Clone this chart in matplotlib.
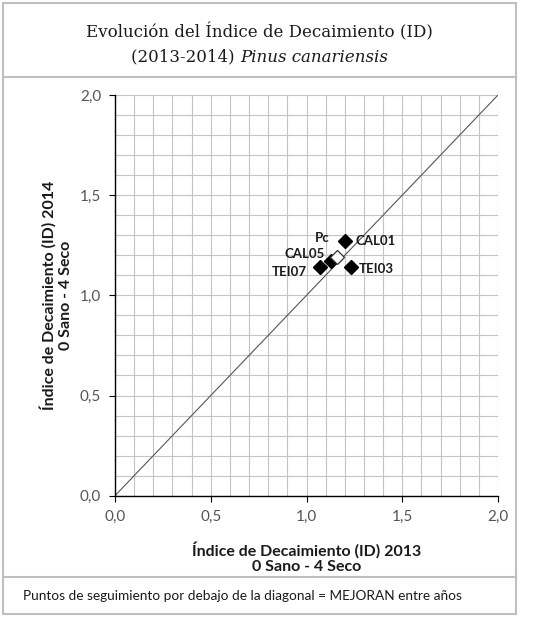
import matplotlib.pyplot as plt
from matplotlib.lines import Line2D
from matplotlib.patches import Rectangle
from matplotlib.ticker import MultipleLocator, FuncFormatter

# Data
plots = ["CAL01", "CAL05", "TEI07", "TEI03"]
id_2013 = [1.20, 1.13, 1.07, 1.23]
id_2014 = [1.27, 1.17, 1.14, 1.14]
pc_2013 = [1.16]
pc_2014 = [1.19]
diag = [0.0, 2.0]

W, H = 534, 619
SANS = "Lato"
BORDER = "#bfbfbf"
INK = "#1a1a1a"

fig = plt.figure(figsize=(W / 100, H / 100), dpi=100)
fig.patch.set_facecolor("white")


def fx(px):
    return px / W


def fy(py):
    return 1 - py / H


# outer frame and separators
fig.add_artist(Rectangle((fx(3), fy(614)), fx(513), 611 / H, transform=fig.transFigure,
                         fill=False, edgecolor=BORDER, linewidth=1.5))
for yy in (77, 577):
    fig.add_artist(Line2D([fx(3), fx(516)], [fy(yy), fy(yy)], transform=fig.transFigure,
                          color=BORDER, linewidth=1.5))

# title
TSIZE = 12
fig.text(fx(259.5), fy(32), "Evolución del Índice de Decaimiento (ID)", ha="center",
         va="center", fontsize=TSIZE, family="DejaVu Serif", color=INK)
t1 = fig.text(0, fy(57), "(2013-2014) ", ha="left", va="center", fontsize=TSIZE,
              family="DejaVu Serif", color=INK)
t2 = fig.text(0, fy(57), "Pinus canariensis", ha="left", va="center", fontsize=TSIZE,
              family="DejaVu Serif", style="italic", color=INK)
r = fig.canvas.get_renderer()
w1 = t1.get_window_extent(r).width
w2 = t2.get_window_extent(r).width
x0 = 259.5 - (w1 + w2) / 2
t1.set_x(fx(x0))
t2.set_x(fx(x0 + w1))

# plot
ax = fig.add_axes([fx(115), 1 - 495.7 / H, fx(383), 400.7 / H])
ax.set_xlim(0, 2)
ax.set_ylim(0, 2)
ax.xaxis.set_major_locator(MultipleLocator(0.5))
ax.yaxis.set_major_locator(MultipleLocator(0.5))
ax.xaxis.set_minor_locator(MultipleLocator(0.1))
ax.yaxis.set_minor_locator(MultipleLocator(0.1))
fmt = FuncFormatter(lambda v, p: f"{v:.1f}".replace(".", ","))
ax.xaxis.set_major_formatter(fmt)
ax.yaxis.set_major_formatter(fmt)
ax.grid(True, which="both", color="#c4c4c4", linewidth=0.8, zorder=0)
ax.set_axisbelow(True)
for s in ("top", "right"):
    ax.spines[s].set_visible(False)
for s in ("left", "bottom"):
    ax.spines[s].set_color("black")
    ax.spines[s].set_linewidth(1.0)
ax.tick_params(which="major", direction="out", length=4, width=0.8,
               labelsize=11, labelcolor="#555555", pad=6)
ax.tick_params(which="minor", length=0)
for lab in ax.get_xticklabels() + ax.get_yticklabels():
    lab.set_family(SANS)

ax.plot(diag, diag, color="#555555", linewidth=0.8, zorder=2)
ax.plot(id_2013, id_2014, linestyle="none", marker="D", markersize=7,
        color="black", zorder=4)
ax.plot(pc_2013, pc_2014, linestyle="none", marker="D", markersize=7,
        markerfacecolor="white", markeredgecolor="#333333", markeredgewidth=0.9, zorder=4)

# point labels (offsets in pixels)
LSIZE = 9.5
offsets = {"CAL01": (11, 0, "left"), "CAL05": (-7, 7, "right"),
           "TEI07": (-13, -5, "right"), "TEI03": (8, -2, "left")}
for name, x, y in zip(plots, id_2013, id_2014):
    dx, dy, ha = offsets[name]
    ax.annotate(name, (x, y), xytext=(dx * 0.72, dy * 0.72), textcoords="offset points",
                ha=ha, va="center", fontsize=LSIZE, fontweight="bold", family=SANS,
                color=INK)
ax.annotate("Pc", (pc_2013[0], pc_2014[0]), xytext=(-15 * 0.72, 19 * 0.72),
            textcoords="offset points", ha="center", va="center", fontsize=LSIZE,
            fontweight="bold", family=SANS, color=INK)

# axis titles
ASIZE = 11.5
fig.text(fx(307), fy(550), "Índice de Decaimiento (ID) 2013", ha="center", va="center",
         fontsize=ASIZE, fontweight="bold", family=SANS, color=INK)
fig.text(fx(307), fy(567), "0 Sano - 4 Seco", ha="center", va="center",
         fontsize=ASIZE, fontweight="bold", family=SANS, color=INK)
fig.text(fx(48), fy(295), "Índice de Decaimiento (ID) 2014", ha="center", va="center",
         rotation=90, fontsize=ASIZE, fontweight="bold", family=SANS, color=INK)
fig.text(fx(66), fy(295), "0 Sano - 4 Seco", ha="center", va="center",
         rotation=90, fontsize=ASIZE, fontweight="bold", family=SANS, color=INK)

# footer
fig.text(fx(23), fy(596.5), "Puntos de seguimiento por debajo de la diagonal = MEJORAN entre años",
         ha="left", va="center", fontsize=9.8, family=SANS, color=INK)

fig.savefig("out.png", dpi=100, facecolor="white")
